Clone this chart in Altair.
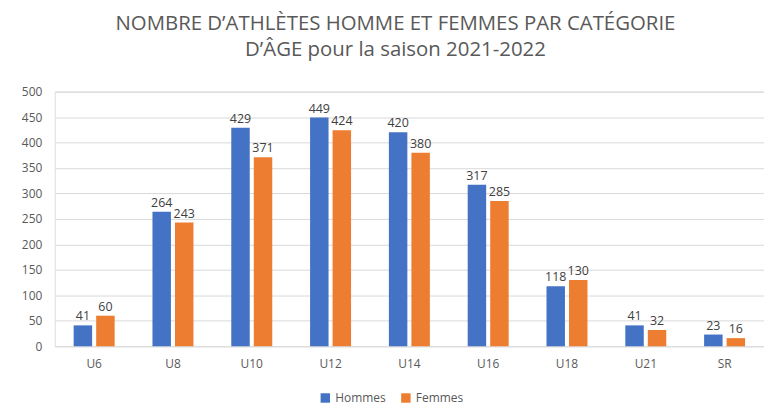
import altair as alt
import pandas as pd

categories = ["U6", "U8", "U10", "U12", "U14", "U16", "U18", "U21", "SR"]
hommes = [41, 264, 429, 449, 420, 317, 118, 41, 23]
femmes = [60, 243, 371, 424, 380, 285, 130, 32, 16]
series = ["Hommes", "Femmes"]
colors = ["#4472C4", "#ED7D31"]
y_ticks = [0, 50, 100, 150, 200, 250, 300, 350, 400, 450, 500]

rows = []
for c, h, f in zip(categories, hommes, femmes):
    rows.append({"cat": c, "sexe": "Hommes", "val": h})
    rows.append({"cat": c, "sexe": "Femmes", "val": f})
df = pd.DataFrame(rows)

FONT = "Open Sans"

x = alt.X("cat:N", sort=categories, title=None,
          scale=alt.Scale(paddingInner=0.48, paddingOuter=0.24),
          axis=alt.Axis(labelAngle=0, ticks=False, domain=False, labelPadding=12,
                        labelFontSize=12, labelColor="#595959", labelFont=FONT))
xo = alt.XOffset("sexe:N", sort=series, scale=alt.Scale(paddingInner=0.18, paddingOuter=0))
y = alt.Y("val:Q", title=None,
          scale=alt.Scale(domain=[0, 500]),
          axis=alt.Axis(values=y_ticks, ticks=False, domain=False,
                        labelOverlap=False,
                        labelPadding=13, labelFontSize=12, labelColor="#595959",
                        labelFont=FONT, gridColor="#d9d9d9", gridWidth=1))

bars = alt.Chart(df).mark_bar().encode(
    x=x, xOffset=xo, y=y,
    color=alt.Color("sexe:N", sort=series,
                    scale=alt.Scale(domain=series, range=colors),
                    legend=alt.Legend(title=None, orient="none", direction="horizontal",
                                      legendX=266, legendY=302, symbolType="square",
                                      symbolSize=90, symbolStrokeWidth=0,
                                      labelFontSize=12, labelColor="#595959",
                                      labelFont=FONT, columnPadding=14))
)

labels = alt.Chart(df).mark_text(dy=-9, fontSize=12.5, color="#404040", font=FONT).encode(
    x=x, xOffset=xo, y=y,
    text="val:Q",
)

chart = (bars + labels).properties(
    width=713,
    height=256,
    padding={"left": 47, "top": 83, "right": 0, "bottom": 60},
    autosize=alt.AutoSizeParams(type="none"),
    title=alt.Title(
        ["NOMBRE D’ATHLÈTES HOMME ET FEMMES PAR CATÉGORIE", "D’ÂGE pour la saison 2021-2022"],
        fontSize=20.5, font=FONT, fontWeight="normal", color="#595959",
        anchor="middle", offset=25, lineHeight=26, dx=-14,
    ),
).configure_view(stroke=None).configure(background="white")

chart.save("out.html", embed_options={"renderer": "svg", "actions": False})
